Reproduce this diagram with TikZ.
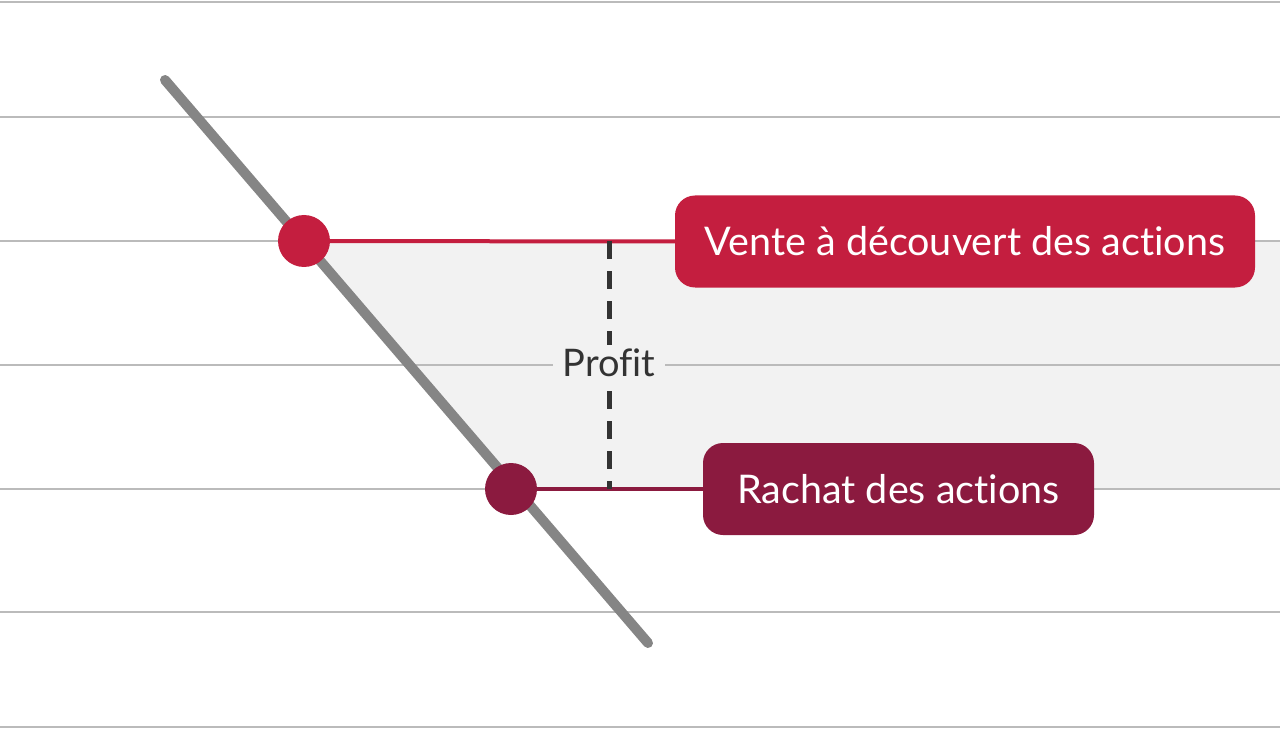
\documentclass[tikz,border=0pt]{standalone}
\usepackage{fontspec}
\setmainfont{Lato}[Ligatures=NoCommon]
\definecolor{cred}{HTML}{C41E3F}
\definecolor{cdark}{HTML}{8B1A3F}
\definecolor{cshade}{HTML}{F2F2F2}
\definecolor{cgrid}{HTML}{BBBBBB}
\definecolor{cdiag}{HTML}{858585}
\definecolor{cdash}{HTML}{333333}
\begin{document}
\begin{tikzpicture}[x=1pt,y=-1pt,
  grid/.style={draw=cgrid,line width=1.3pt},
  label/.style={rounded corners=20pt,minimum height=92pt,text=white,font=\fontsize{39.5}{44}\selectfont,inner xsep=0pt},
  dot/.style={circle,minimum size=52pt,inner sep=0pt}]
\useasboundingbox (0,0) rectangle (1280,730);
% shaded profit zone
\fill[cshade] (303,241) -- (1280,241) -- (1280,489) -- (516,489) -- cycle;
% grid
\foreach \y in {2,117,241,365,489,612,727} \draw[grid] (0,\y) -- (1280,\y);
% diagonal
\coordinate (d1) at (165,80);
\coordinate (d2) at (648,643);
\draw[cdiag,line width=10pt,line cap=round] (d1) -- (d2);
% nodes
\node[label,fill=cred,minimum width=580pt] (vente) at (965,241.5) {Vente à découvert des actions};
\node[label,fill=cdark,minimum width=391pt] (rachat) at (898.5,489) {Rachat des actions};
\coordinate (t) at (609,241);
\coordinate (b) at (609,489);
\draw[cred,line width=4pt] (304,241) -- (vente.west);
\draw[cdark,line width=4pt] (511,489) -- (rachat.west);
\node[dot,fill=cred] (p1) at (304,241) {};
\node[dot,fill=cdark] (p2) at (511,489) {};
\draw[cdash,line width=5pt,dash pattern=on 18pt off 12pt] (t) -- (b);
\node[fill=cshade,font=\fontsize{38}{44}\selectfont,text=cdash,inner xsep=10pt,inner ysep=4pt] (profit) at (609,363) {Profit};
\end{tikzpicture}
\end{document}
